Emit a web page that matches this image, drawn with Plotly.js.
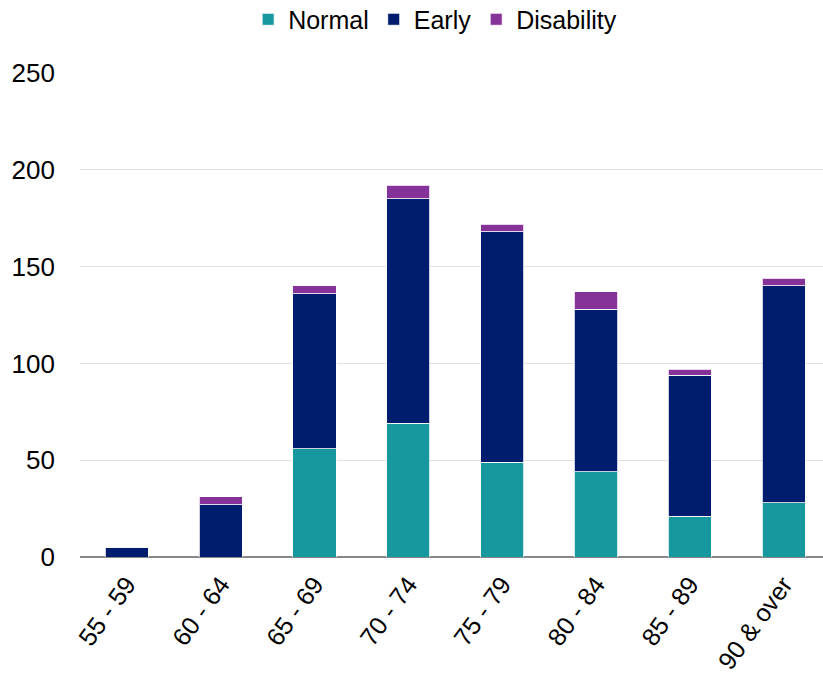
<!DOCTYPE html>
<html>
<head>
<meta charset="utf-8">
<script src="https://cdn.plot.ly/plotly-3.0.1.min.js"></script>
<style>html,body{margin:0;padding:0;background:#fff;}#chart{width:823px;height:675px;}</style>
</head>
<body>
<div id="chart"></div>
<script>
const categories = ["55 - 59", "60 - 64", "65 - 69", "70 - 74", "75 - 79", "80 - 84", "85 - 89", "90 & over"];
const normal = [0, 0, 56, 69, 49, 44, 21, 28];
const early = [5, 27, 80, 116, 119, 84, 73, 112];
const disability = [0, 4, 4, 7, 4, 9, 3, 4];
const yTicks = [0, 50, 100, 150, 200, 250];

function trace(name, vals, color) {
  return {
    type: "bar", name: name, x: categories, y: vals,
    marker: {color: color, line: {color: "rgba(255,255,255,0.8)", width: 1}},
    width: 0.46, hoverinfo: "x+y+name"
  };
}

const data = [
  trace("Normal", normal, "#17979E"),
  trace("Early", early, "#001C6E"),
  trace("Disability", disability, "#863399")
];

const layout = {
  width: 823, height: 675,
  margin: {l: 80, r: 0, t: 73, b: 118, pad: 0, autoexpand: false},
  barmode: "stack",
  paper_bgcolor: "#fff", plot_bgcolor: "#fff",
  font: {family: "Liberation Sans, Arial, sans-serif", size: 25, color: "#000"},
  showlegend: true,
  legend: {orientation: "h", x: 0.478, xanchor: "center", y: 1.158, yanchor: "top",
           font: {size: 25}, traceorder: "normal", itemwidth: 30, tracegroupgap: 0},
  xaxis: {type: "category", range: [-0.5, 7.42], tickangle: -54, showgrid: false,
          showline: false, ticks: "", tickfont: {size: 25}, zeroline: false, ticklabelstandoff: 7},
  yaxis: {range: [0, 250], tickvals: yTicks, showgrid: true, gridcolor: "#e0e0e0", gridwidth: 1,
          zeroline: true, zerolinecolor: "#888", zerolinewidth: 2, showline: false, ticks: "",
          ticklabelstandoff: 24, tickfont: {size: 26}}
};

Plotly.newPlot("chart", data, layout, {displayModeBar: false, staticPlot: true});
</script>
</body>
</html>
